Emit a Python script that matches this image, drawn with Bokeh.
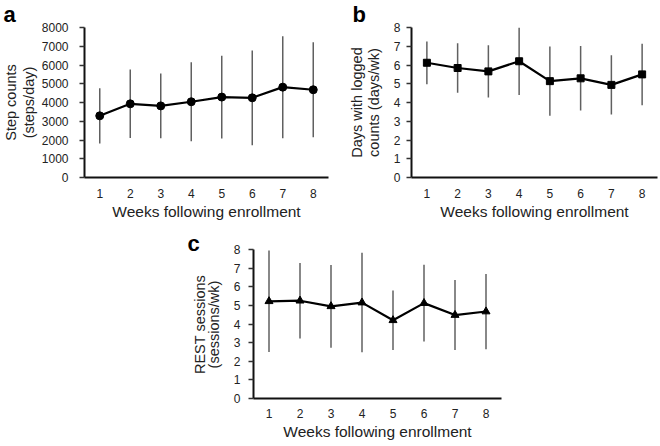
import math
from bokeh.plotting import figure
from bokeh.layouts import column, row
from bokeh.models import ColumnDataSource, Range1d, FixedTicker
from bokeh.core.properties import value
from bokeh.embed import file_html
from bokeh.resources import INLINE

weeks = [1, 2, 3, 4, 5, 6, 7, 8]
week_labels = ["1", "2", "3", "4", "5", "6", "7", "8"]

# Panel a: step counts (steps/day), mean and SD
steps_mean = [3290, 3930, 3820, 4040, 4290, 4250, 4820, 4680]
steps_sd = [1470, 1825, 1730, 2105, 2210, 2525, 2720, 2535]

# Panel b: days with logged counts (days/wk)
days_mean = [6.12, 5.84, 5.66, 6.20, 5.14, 5.29, 4.94, 5.50]
days_sd = [1.14, 1.32, 1.39, 1.80, 1.85, 1.72, 1.58, 1.64]

# Panel c: REST sessions (sessions/wk)
rest_mean = [5.22, 5.25, 4.95, 5.15, 4.20, 5.12, 4.48, 4.67]
rest_sd = [2.73, 2.03, 2.22, 2.67, 1.60, 2.06, 1.88, 2.02]

XTITLE = "Weeks following enrollment"
YTITLE_A = ["Step counts", "(steps/day)"]
YTITLE_B = ["Days with logged", "counts (days/wk)"]
YTITLE_C = ["REST sessions", "(sessions/wk)"]

FONT = "Liberation Sans"


def panel(mean, sd, marker, ymax, ystep, width, height,
          bl, br, bt, bb, msize, xlab_standoff, ylab_standoff):
    p = figure(width=width, height=height, output_backend="svg",
               toolbar_location=None, x_range=Range1d(0.5, 8.5),
               y_range=Range1d(0, ymax),
               min_border_left=bl, min_border_right=br,
               min_border_top=bt, min_border_bottom=bb)
    p.outline_line_color = None
    p.grid.visible = False
    lower = [m - s for m, s in zip(mean, sd)]
    upper = [m + s for m, s in zip(mean, sd)]
    src = ColumnDataSource(dict(x=weeks, y=mean, lo=lower, hi=upper))
    p.segment(x0="x", y0="lo", x1="x", y1="hi", source=src,
              line_color="#606060", line_width=1.5)
    p.line("x", "y", source=src, line_color="black", line_width=2.2)
    p.scatter("x", "y", source=src, marker=marker, size=msize,
              fill_color="black", line_color="black")
    xa = p.xaxis[0]
    xa.ticker = FixedTicker(ticks=weeks)
    xa.major_label_overrides = {w: l for w, l in zip(weeks, week_labels)}
    xa.major_tick_out = 0
    xa.major_tick_in = 0
    xa.minor_tick_out = 0
    xa.minor_tick_in = 0
    xa.axis_line_width = 2
    xa.axis_line_color = "#111111"
    xa.major_label_text_font = FONT
    xa.major_label_text_font_size = "12px"
    xa.major_label_text_color = "#222222"
    xa.major_label_standoff = xlab_standoff
    xa.axis_label = XTITLE
    xa.axis_label_text_font = FONT
    xa.axis_label_text_font_size = "15.5px"
    xa.axis_label_text_font_style = "normal"
    xa.axis_label_text_color = "#222222"
    xa.axis_label_standoff = 2
    ya = p.yaxis[0]
    ya.ticker = FixedTicker(ticks=list(range(0, ymax + 1, ystep)))
    ya.major_tick_out = 5
    ya.major_tick_in = 0
    ya.minor_tick_out = 0
    ya.minor_tick_in = 0
    ya.major_tick_line_color = "#333333"
    ya.major_tick_line_width = 1.5
    ya.axis_line_width = 2
    ya.axis_line_color = "#111111"
    ya.major_label_text_font = FONT
    ya.major_label_text_font_size = "12px"
    ya.major_label_text_color = "#222222"
    ya.major_label_standoff = ylab_standoff
    return p


def deco(width, height, letter, letter_x, letter_y, letter_baseline,
         title_lines, title_xs, title_mid):
    """Side strip (pixel coordinates, y downward) holding the panel letter
    and the rotated two-line y-axis title."""
    d = figure(width=width, height=height, output_backend="svg",
               toolbar_location=None, x_range=Range1d(0, width),
               y_range=Range1d(height, 0),
               x_axis_location=None, y_axis_location=None, min_border=0)
    d.frame_align = False
    d.title.visible = False
    d.outline_line_color = None
    d.grid.visible = False
    d.text(x=[letter_x], y=[letter_y], text=[letter],
           text_font=value(FONT), text_font_size=value("22px"),
           text_font_style="bold", text_color="black",
           text_align="left", text_baseline=letter_baseline)
    d.text(x=title_xs, y=[title_mid] * len(title_lines),
           text=title_lines, angle=math.pi / 2, text_font=value(FONT),
           text_font_size=value("14.5px"), text_color="#222222",
           text_align="center", text_baseline="middle")
    return d


H1 = 228
H2 = 218

deco_a = deco(38, H1, "a", 3, 14, "alphabetic", YTITLE_A, [10.5, 28.5], 102)
pa = panel(steps_mean, steps_sd, "circle", 8000, 1000,
           width=302, height=H1, bl=44, br=12, bt=27, bb=51,
           msize=8, xlab_standoff=11, ylab_standoff=11)
deco_b = deco(48, H1, "b", 12, 14, "alphabetic", YTITLE_B, [16.5, 33], 102)
pb = panel(days_mean, days_sd, "square", 8, 1,
           width=272, height=H1, bl=23, br=3, bt=27, bb=51,
           msize=7, xlab_standoff=11, ylab_standoff=6)
deco_c = deco(230, H2, "c", 187, 2, "top", YTITLE_C, [199, 213.5], 96)
pc = panel(rest_mean, rest_sd, "triangle", 8, 1,
           width=281, height=H2, bl=23, br=10, bt=21, bb=48,
           msize=8, xlab_standoff=10, ylab_standoff=8)

layout = column(row(deco_a, pa, deco_b, pb), row(deco_c, pc))

with open("out.html", "w") as f:
    f.write(file_html(layout, INLINE))
